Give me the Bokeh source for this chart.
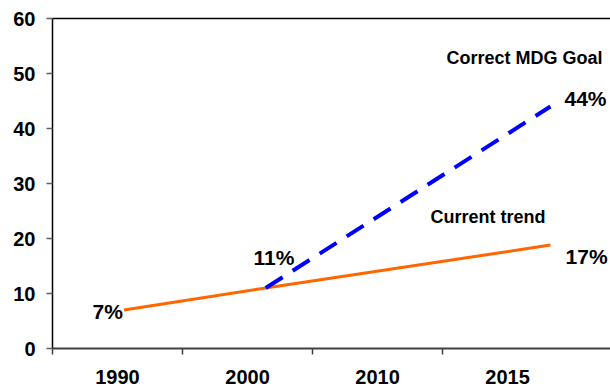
from bokeh.plotting import figure
from bokeh.models import LinearAxis, FixedTicker, Range1d
from bokeh.core.properties import value
from bokeh.embed import file_html
from bokeh.resources import INLINE

# ---- data ----
years = ["1990", "2000", "2010", "2015"]
y_ticks = [0, 10, 20, 30, 40, 50, 60]

# x positions on the category axis (category i centred at i)
trend_x = [0.05, 1.14, 3.33]
trend_vals = [7, 11, 18.8]
goal_x = [1.14, 3.33]
goal_vals = [11, 44]

pct_labels = ["7%", "11%", "17%", "44%"]
series_names = ["Current trend", "Correct MDG Goal"]

FONT = value("Liberation Sans")

p = figure(width=610, height=388, x_range=Range1d(-0.5, 3.792), y_range=Range1d(0, 60),
           output_backend="svg", toolbar_location=None,
           min_border_left=52, min_border_right=0, min_border_top=18, min_border_bottom=40)
p.grid.visible = False
p.outline_line_color = None
p.background_fill_color = "white"
p.border_fill_color = "white"

# x axis: labels at category centres, ticks at category boundaries
xa = p.xaxis[0]
xa.ticker = FixedTicker(ticks=list(range(len(years))), minor_ticks=[-0.5, 0.5, 1.5, 2.5])
xa.major_label_overrides = {i: y for i, y in enumerate(years)}
xa.major_tick_line_color = None
xa.major_tick_out = 0
xa.major_tick_in = 0
xa.minor_tick_out = 6
xa.minor_tick_in = 0
xa.minor_tick_line_color = "#404040"
xa.minor_tick_line_width = 1.5
xa.axis_line_color = "#404040"
xa.axis_line_width = 2
xa.major_label_text_font = "Liberation Sans"
xa.major_label_text_font_style = "bold"
xa.major_label_text_font_size = "20px"
xa.major_label_text_color = "black"
xa.major_label_standoff = 15

ya = p.yaxis[0]
ya.ticker = FixedTicker(ticks=y_ticks, minor_ticks=[])
ya.major_tick_out = 6
ya.major_tick_in = 0
ya.major_tick_line_color = "#606060"
ya.major_tick_line_width = 1.5
ya.axis_line_color = "black"
ya.axis_line_width = 1.5
ya.major_label_text_font = "Liberation Sans"
ya.major_label_text_font_style = "bold"
ya.major_label_text_font_size = "20px"
ya.major_label_text_color = "black"
ya.major_label_standoff = 11

# top border line
top = LinearAxis(ticker=FixedTicker(ticks=[], minor_ticks=[]), major_label_text_font_size="0px",
                 major_tick_line_color=None, minor_tick_line_color=None,
                 axis_line_color="black", axis_line_width=1.5)
p.add_layout(top, "above")

# series
p.line(trend_x, trend_vals, line_color="#FF6600", line_width=3)
p.line(goal_x, goal_vals, line_color="#0000FF", line_width=4, line_dash="20 12")

# annotations
common = dict(text_font=FONT, text_font_style="bold", text_color="black",
              text_baseline="middle", text_align="left")
p.text(x=[-0.192, 1.046, 3.446, 3.438], y=[6.64, 16.55, 16.73, 45.45], text=pct_labels,
       text_font_size="21px", **common)
p.text(x=[2.408, 2.531], y=[23.91, 52.73], text=series_names, text_font_size="18px", **common)

open("out.html", "w").write(file_html(p, INLINE))
